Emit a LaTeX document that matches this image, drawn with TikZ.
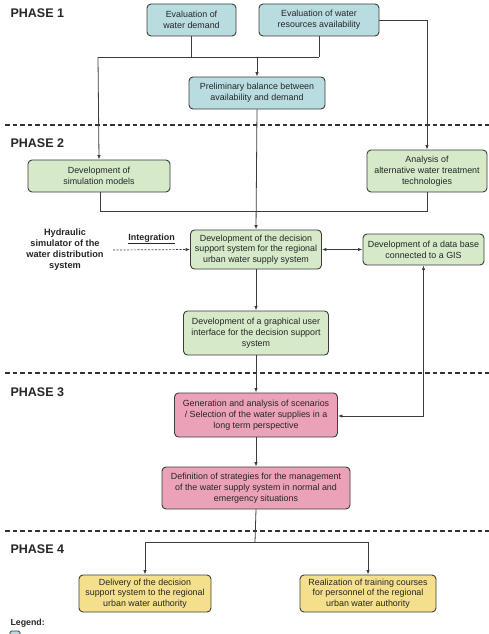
\documentclass[tikz,border=0pt]{standalone}
\usepackage{fontspec}
\setmainfont{Liberation Sans}
\usetikzlibrary{arrows.meta,calc}
\definecolor{bluebox}{HTML}{B9DCE0}
\definecolor{greenbox}{HTML}{D6E9C9}
\definecolor{pinkbox}{HTML}{EBA2B9}
\definecolor{yellowbox}{HTML}{F4E08C}
\definecolor{edge}{HTML}{3C3C3C}
\tikzset{
  box/.style={draw=edge, line width=0.9pt, rounded corners=4pt, align=center,
    font=\fontsize{8.9}{10.8}\selectfont, inner sep=0.5pt, text=black!85},
  bbox/.style={box, fill=bluebox},
  gbox/.style={box, fill=greenbox},
  pbox/.style={box, fill=pinkbox},
  ybox/.style={box, fill=yellowbox},
  conn/.style={draw=edge, line width=0.8pt},
  arr/.style={conn, -{Latex[length=4.5pt,width=3.5pt]}},
  darr/.style={conn, {Latex[length=4.5pt,width=3.5pt]}-{Latex[length=4.5pt,width=3.5pt]}},
  phase/.style={anchor=west, font=\bfseries\fontsize{12.5}{14}\selectfont, text=black!85},
  sep/.style={draw=black!80, line width=1.3pt, dash pattern=on 4.5pt off 3pt},
}
\begin{document}
\begin{tikzpicture}[x=1pt,y=-1pt]
\useasboundingbox (0,0) rectangle (489,634);
\clip (0,0) rectangle (489,634);
% separators
\draw[sep] (5,125) -- (489,125);
\draw[sep] (5,373) -- (489,373);
\draw[sep] (5,531) -- (489,531);
% phase labels
\node[phase] (p1) at (7,13) {PHASE 1};
\node[phase] (p2) at (7,143) {PHASE 2};
\node[phase] (p3) at (7,392) {PHASE 3};
\node[phase] (p4) at (7,549) {PHASE 4};
% boxes
\node[bbox, minimum width=89, minimum height=32] (dem) at (191.5,20) {Evaluation of\\water demand};
\node[bbox, minimum width=120, minimum height=32] (res) at (319,20) {Evaluation of water\\resources availability};
\node[bbox, minimum width=136, minimum height=32] (pre) at (257,93) {Preliminary balance between\\availability and demand};
\node[gbox, minimum width=142, minimum height=32] (sim) at (99,176) {Development of\\simulation models};
\node[gbox, minimum width=120, minimum height=42] (ana) at (427,171) {Analysis of\\alternative water treatment\\technologies};
\node[gbox, minimum width=131, minimum height=39] (dss) at (256,249.5) {Development of the decision\\support system for the regional\\urban water supply system};
\node[gbox, minimum width=121, minimum height=31] (gis) at (423.5,249.5) {Development of a data base\\connected to a GIS};
\node[gbox, minimum width=145, minimum height=44] (gui) at (256,333) {Development of a graphical user\\interface for the decision support\\system};
\node[pbox, minimum width=163, minimum height=44] (gen) at (256,415) {Generation and analysis of scenarios\\/ Selection of the water supplies in a\\long term perspective};
\node[pbox, minimum width=188, minimum height=42] (def) at (256,488) {Definition of strategies for the management\\of the water supply system in normal and\\emergency situations};
\node[ybox, minimum width=132, minimum height=37] (del) at (145,593.5) {Delivery of the decision\\support system to the regional\\urban water authority};
\node[ybox, minimum width=136, minimum height=37] (rea) at (368,593.5) {Realization of training courses\\for personnel of the regional\\urban water authority};
% side texts
\node[align=center, font=\bfseries\fontsize{9.2}{11}\selectfont, text=black!85] (hyd) at (65,250) {Hydraulic\\simulator of the\\water distribution\\system};
\node[font=\bfseries\fontsize{9}{10}\selectfont, text=black!85] (integ) at (151.5,239) {\underline{Integration}};
% phase 1 connectors
\coordinate (j1) at (98,57);
\coordinate (j2) at (319,57);
\coordinate (j3) at (257,57);
\coordinate (r1) at (427,20);
\draw[conn] (dem.south) -- (dem.south |- j1);
\draw[conn] (res.south) -- (j2);
\draw[conn] (j1) -- (j2);
\draw[arr] (j3) -- (pre.north);
\draw[arr] (j1) -- (sim.north);
\draw[arr] (res.east |- r1) -- (r1) -- (ana.north);
% phase 2 connectors
\coordinate (k1) at (100,211);
\coordinate (k2) at (427,211);
\draw[conn] (sim.south -| k1) -- (k1) -- (k2) -- (ana.south);
\draw[arr] (pre.south) -- (dss.north);
\draw[conn, -{Latex[length=4.5pt,width=3.5pt]}, dash pattern=on 2pt off 1.5pt, line width=0.7pt] (113,250) -- (dss.west);
\draw[darr] (dss.east) -- (gis.west);
\draw[arr] (dss.south) -- (gui.north);
\draw[arr] (gui.south) -- (gen.north);
% GIS <-> generation
\coordinate (g1) at (423.5,416);
\draw[darr] (gen.east |- g1) -- (g1) -- (gis.south);
\draw[arr] (gen.south) -- (def.north);
% phase 4
\coordinate (m0) at (255,542);
\coordinate (m1) at (145,542);
\coordinate (m2) at (368,542);
\draw[conn] (def.south) -- (m0);
\draw[conn] (m1) -- (m2);
\draw[arr] (m1) -- (del.north);
\draw[arr] (m2) -- (rea.north);
% legend
\node[anchor=west, font=\bfseries\fontsize{8.8}{10}\selectfont, text=black!85] (leg) at (7,623) {Legend:};
\draw[draw=edge, line width=0.8pt, fill=bluebox, rounded corners=1.5pt] (10,631) rectangle (20,640);
\end{tikzpicture}
\end{document}
